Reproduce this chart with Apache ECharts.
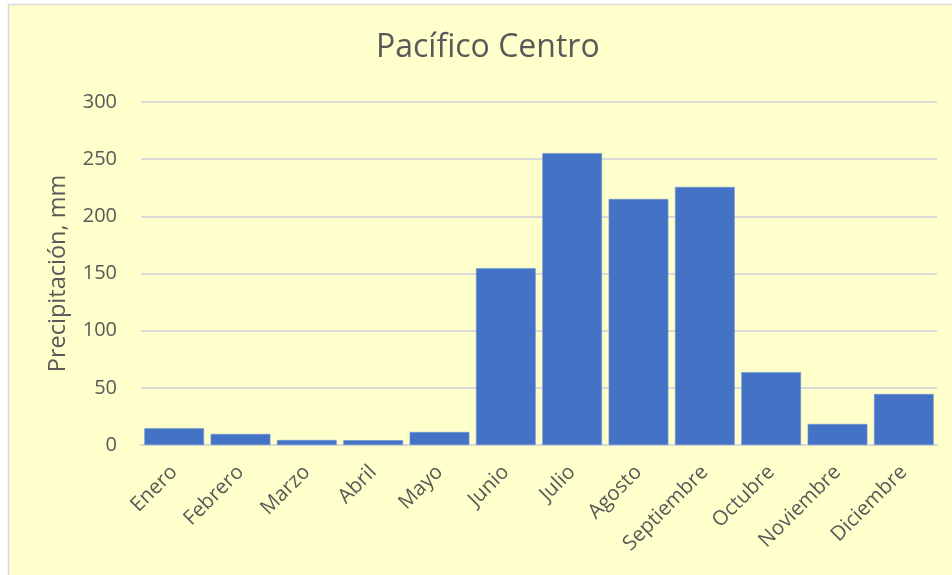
<!DOCTYPE html>
<html>
<head>
<meta charset="utf-8">
<script src="https://cdn.jsdelivr.net/npm/echarts@6/dist/echarts.min.js"></script>
<style>
html,body{margin:0;padding:0;background:#ffffff;}
#chart{width:952px;height:575px;}
</style>
</head>
<body>
<div id="chart"></div>
<script>
const titleText = 'Pacífico Centro';
const yAxisName = 'Precipitación, mm';
const months = ['Enero','Febrero','Marzo','Abril','Mayo','Junio','Julio','Agosto','Septiembre','Octubre','Noviembre','Diciembre'];
const precipitation = [14.6, 9.7, 4.4, 4.2, 11.4, 154.6, 255.3, 215.2, 225.7, 63.7, 18.4, 44.6];

const FONT = '"Open Sans", Lato, sans-serif';
const TEXT = '#595959';

const chart = echarts.init(document.getElementById('chart'), null, {renderer: 'canvas'});
chart.setOption({
  backgroundColor: '#ffffff',
  graphic: [{
    type: 'rect',
    z: -10,
    shape: {x: 8.5, y: 4.5, width: 960, height: 580},
    style: {fill: '#FFFFCC', stroke: '#D9D9D9', lineWidth: 1.5}
  }],
  title: {
    text: titleText,
    left: 371,
    top: 27,
    textStyle: {fontFamily: FONT, fontSize: 32, fontWeight: 'normal', color: TEXT}
  },
  grid: {left: 141, right: 15, top: 102, bottom: 130, containLabel: false},
  xAxis: {
    type: 'category',
    data: months,
    axisLine: {show: true, lineStyle: {color: '#D9D9D9', width: 2}},
    axisTick: {show: false},
    axisLabel: {rotate: 45, margin: 24, fontFamily: FONT, fontSize: 20.5, color: TEXT, interval: 0}
  },
  yAxis: {
    type: 'value',
    min: 0,
    max: 300,
    interval: 50,
    name: yAxisName,
    nameLocation: 'middle',
    nameGap: 71,
    nameTextStyle: {fontFamily: FONT, fontSize: 23.5, color: TEXT},
    axisLine: {show: false},
    axisTick: {show: false},
    axisLabel: {margin: 24, fontFamily: FONT, fontSize: 20, color: TEXT},
    splitLine: {lineStyle: {color: '#D9D9D9', width: 2}}
  },
  series: [{
    type: 'bar',
    data: precipitation,
    barCategoryGap: '10%',
    itemStyle: {color: '#4472C4', borderColor: '#6F94D4', borderWidth: 0.6},
    animation: false
  }],
  animation: false
});
</script>
</body>
</html>
